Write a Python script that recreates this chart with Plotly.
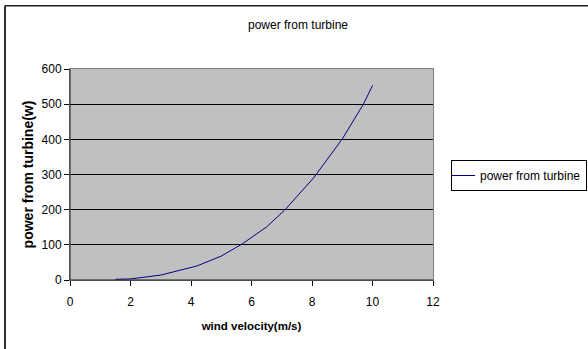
import plotly.graph_objects as go

wind_velocity = [1.5, 2, 3, 4.2, 5, 5.7, 6.5, 7.1, 8.05, 9, 9.7, 10]
power = [2, 3, 14, 40, 68, 103, 151, 199, 290, 401, 500, 553]
series_name = "power from turbine"
chart_title = "power from turbine"
x_title = "wind velocity(m/s)"
y_title = "power from turbine(w)"
x_ticks = [0, 2, 4, 6, 8, 10, 12]
y_ticks = [0, 100, 200, 300, 400, 500, 600]

W, H = 588, 349
L, R, T, B = 70, 155, 68.5, 69
pw, ph = W - L - R, H - T - B

def px_x(p):
    return (p - L) / pw

def px_y(p):
    return (H - B - p) / ph

font = "Liberation Sans, Arial, sans-serif"

fig = go.Figure()
fig.add_trace(go.Scatter(
    x=wind_velocity, y=power, mode="lines", name=series_name,
    line=dict(color="#000080", width=1),
))

fig.update_layout(
    width=W, height=H,
    margin=dict(l=L, r=R, t=T, b=B),
    paper_bgcolor="white",
    plot_bgcolor="#C0C0C0",
    font=dict(family=font, size=12, color="black"),
    title=dict(text=chart_title, x=298 / W, xref="container", xanchor="center",
               y=1 - 25 / H, yref="container", yanchor="middle",
               font=dict(size=12, family=font, color="black")),
    showlegend=True,
    legend=dict(x=451 / W, xref="container", xanchor="left",
                y=1 - 160 / H, yref="container", yanchor="top",
                bordercolor="black", borderwidth=1, bgcolor="white",
                font=dict(size=12, family=font), itemwidth=30, indentation=-12),
    xaxis=dict(range=[0, 12], tickvals=x_ticks, showgrid=False, zeroline=False,
               showline=True, linecolor="#808080", mirror=True, linewidth=1,
               ticks="outside", ticklen=5, tickcolor="black", ticklabelstandoff=6,
               tickfont=dict(size=12, family=font),
               title=dict(text="<b>" + x_title + "</b>", font=dict(size=11.5, family=font),
                          standoff=13)),
    yaxis=dict(range=[0, 600], tickvals=y_ticks, showgrid=True, gridcolor="black",
               gridwidth=1, zeroline=False,
               showline=True, linecolor="#808080", mirror=True, linewidth=1,
               ticks="outside", ticklen=5, tickcolor="black",
               tickfont=dict(size=12, family=font),
               title=dict(text="<b>" + y_title + "</b>", font=dict(size=14, family=font),
                          standoff=4)),
    shapes=[
        dict(type="line", xref="paper", yref="paper", x0=0, x1=0, y0=0, y1=1,
             line=dict(color="#202020", width=1)),
        dict(type="line", xref="paper", yref="paper", x0=0, x1=1, y0=0, y1=0,
             line=dict(color="#202020", width=1)),
        dict(type="line", xref="paper", yref="paper",
             x0=px_x(5), x1=px_x(W + 20), y0=px_y(5), y1=px_y(5),
             line=dict(color="#202020", width=1.5), layer="below"),
        dict(type="line", xref="paper", yref="paper",
             x0=px_x(5), x1=px_x(5), y0=px_y(H + 20), y1=px_y(5),
             line=dict(color="#303030", width=2), layer="below"),
    ],
)

fig.write_html("out.html")
